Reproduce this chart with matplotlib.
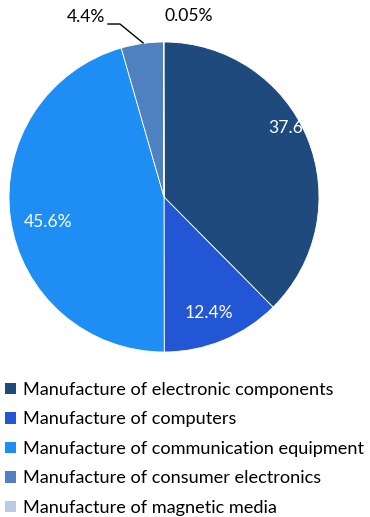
import matplotlib
matplotlib.use("Agg")
import matplotlib.pyplot as plt
from matplotlib.patches import Patch

categories = [
    "Manufacture of electronic components",
    "Manufacture of computers",
    "Manufacture of communication equipment",
    "Manufacture of consumer electronics",
    "Manufacture of magnetic media",
]
shares = [37.6, 12.4, 45.6, 4.4, 0.05]
share_labels = ["37.6%", "12.4%", "45.6%", "4.4%", "0.05%"]
colors = ["#1F4A7E", "#2356D4", "#1E8EF5", "#4F80BF", "#B8CCE4"]

plt.rcParams["font.family"] = ["Lato", "DejaVu Sans"]

W, H = 370, 517
fig = plt.figure(figsize=(W / 100, H / 100), dpi=100)
cx, cy, r = 164, 197, 155
ax = fig.add_axes([(cx - r) / W, (H - cy - r) / H, 2 * r / W, 2 * r / H])
ax.pie(shares, colors=colors, startangle=90, counterclock=False,
       radius=1.0, wedgeprops=dict(edgecolor="white", linewidth=0.6))
ax.set_xlim(-1, 1)
ax.set_ylim(-1, 1)
ax.set_aspect("equal")
ax.axis("off")

# value labels
label_pos = [(0.83, 0.445), (0.29, -0.75), (-0.75, -0.16), (-0.5, 1.16), (0.16, 1.168)]
label_col = ["white", "white", "white", "black", "black"]
for txt, (x, y), c in zip(share_labels, label_pos, label_col):
    ax.text(x, y, txt, color=c, fontsize=12.6, ha="center", va="center", clip_on=False)

# leader line for the consumer electronics slice
ax.plot([-0.361, -0.284, -0.135], [1.116, 1.116, 0.994], color="black", lw=1.0, clip_on=False)

handles = [Patch(facecolor=c, edgecolor="none") for c in colors]
fig.legend(handles, categories, loc="upper left", bbox_to_anchor=(0.013, 1 - 382 / H),
           frameon=False, fontsize=13.1, handlelength=0.62, handleheight=0.62,
           handletextpad=0.38, labelspacing=0.74, borderaxespad=0.0,
           borderpad=0.0)

fig.savefig("out.png", dpi=100)
